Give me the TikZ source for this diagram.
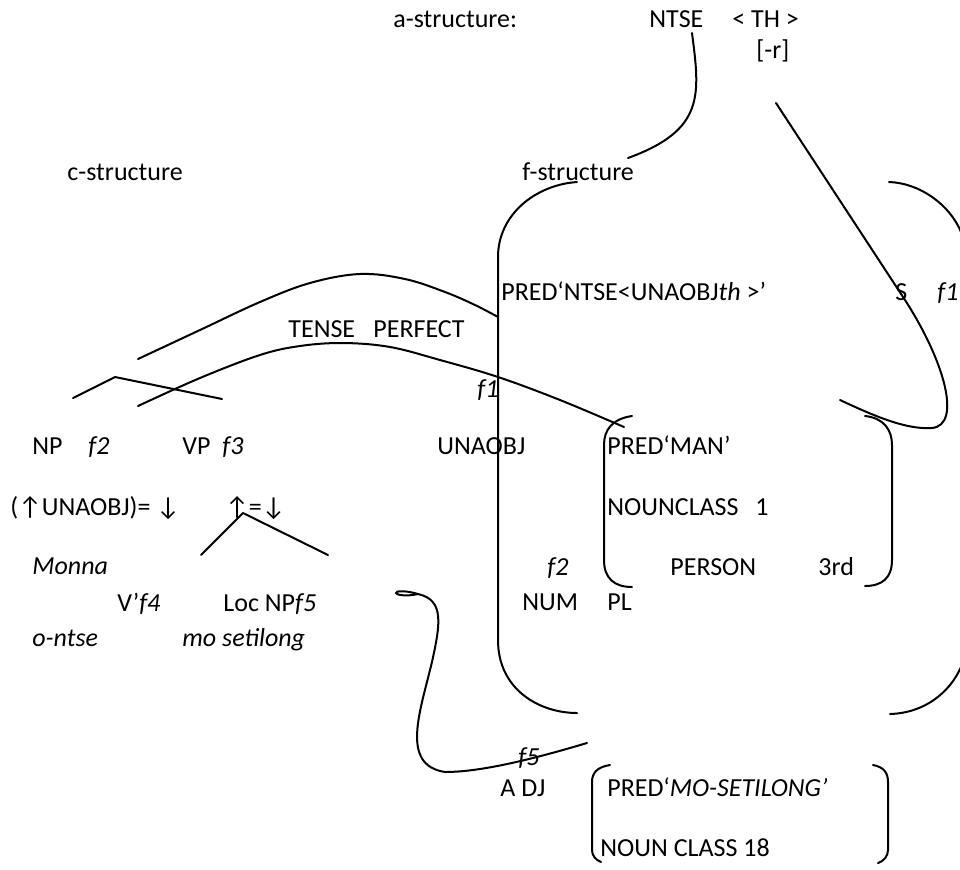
\documentclass[tikz,border=0pt]{standalone}
\usepackage{fontspec}
\setmainfont{Carlito}
\begin{document}
\begin{tikzpicture}[x=0.5pt,y=-0.5pt,
  every node/.style={inner sep=0pt, anchor=base west, font=\fontsize{13}{15}\selectfont},
  ln/.style={line width=1pt, line cap=round, line join=round}]
\useasboundingbox (0,0) rectangle (960,869);
% ---------- texts ----------
\node (astr) at (393,27) {a-structure:};
\node (ntse) at (649,27) {NTSE};
\node (th) at (732,27) {< TH >};
\node (rr) at (756,58) {[-r]};
\node (cstr) at (67,180) {c-structure};
\node (fstr) at (522,180) {f-structure};
\node (pred1) at (501,300) {PRED‘NTSE<UNAOBJ\textit{th} >’};
\node (S) at (895,300) {S};
\node (Sf1) at (937,300) {\textit{f1}};
\node (tense) at (288,337) {TENSE};
\node (perf) at (373,337) {PERFECT};
\node (f1) at (477,397) {\textit{f1}};
\node (np) at (32,454) {NP};
\node (npf) at (88,454) {\textit{f2}};
\node (vp) at (182,454) {VP};
\node (vpf) at (222,454) {\textit{f3}};
\node (unaobj) at (437,454) {UNAOBJ};
\node (predman) at (607,454) {PRED‘MAN’};
\node (eq1) at (10,515) {(↑UNAOBJ)= ↓};
\node (eq2) at (225,515) {↑=↓};
\node (nc) at (607,515) {NOUNCLASS};
\node (nc1) at (755,515) {1};
\node (monna) at (32,574) {\textit{Monna}};
\node (f2b) at (547,575) {\textit{f2}};
\node (person) at (670,575) {PERSON};
\node (third) at (818,575) {3rd};
\node (vbar) at (117,611) {V’\textit{f4}};
\node (locnp) at (223,611) {Loc NP\textit{f5}};
\node (num) at (522,610) {NUM};
\node (pl) at (607,610) {PL};
\node (ontse) at (32,646) {\textit{o-ntse}};
\node (mosetilong) at (182,646) {\textit{mo setilong}};
\node (f5) at (518,765) {\textit{f5}};
\node (adj) at (500,796) {A DJ};
\node (predmo) at (607,796) {PRED‘\textit{MO-SETILONG’}};
\node (nc18) at (600,856) {NOUN CLASS 18};
% ---------- a-structure to f-structure ----------
\coordinate (ntseB) at (692,33);
\coordinate (fstrR) at (628,158);
\draw[ln] (ntseB) .. controls (700,95) and (705,130) .. (fstrR);
% TH line to S f1
\coordinate (thB) at (776,103);
\coordinate (sEnd) at (840,400);
\draw[ln] (thB) -- (905,300) .. controls (945,362) and (962,425) .. (932,428)
  .. controls (905,430) and (870,414) .. (sEnd);
% ---------- big f-structure brackets ----------
\draw[ln] (577,182) .. controls (535,185) and (498,215) .. (498,257)
  -- (498,640) .. controls (498,690) and (540,713) .. (577,713);
\draw[ln] (889,182) .. controls (920,183) and (950,205) .. (961,232);
\draw[ln] (961,667) .. controls (950,692) and (925,713) .. (890,714);
% ---------- PRED MAN brackets ----------
\draw[ln] (632,416) .. controls (612,419) and (604,430) .. (604,445)
  -- (604,560) .. controls (604,578) and (614,587) .. (632,587);
\draw[ln] (865,416) .. controls (884,418) and (892,430) .. (892,445)
  -- (892,560) .. controls (892,578) and (882,586) .. (865,586);
% ---------- MO-SETILONG brackets ----------
\draw[ln] (610,765) .. controls (597,767) and (592,773) .. (592,782)
  -- (592,850) .. controls (592,856) and (596,860) .. (601,862);
\draw[ln] (873,765) .. controls (884,767) and (888,773) .. (888,782)
  -- (888,850) .. controls (888,856) and (884,861) .. (878,863);
% ---------- S arcs to f-structure ----------
\draw[ln] plot[smooth, tension=0.6] coordinates {(138,359) (200,330) (260,302) (310,283) (360,274) (405,279) (445,292) (475,305) (498,317)};
\draw[ln] plot[smooth, tension=0.6] coordinates {(138,406) (200,378) (260,355) (300,346) (343,343) (390,347) (440,360) (498,377) (560,400) (624,427)};
% ---------- tree lines ----------
\coordinate (sL) at (73,398);
\coordinate (sTop) at (115,377);
\coordinate (sR) at (222,399);
\draw[ln] (sL) -- (sTop) -- (sR);
\coordinate (vpTop) at (243,513);
\draw[ln] (201,555) -- (vpTop) -- (328,555);
% ---------- Loc NP to f5 ----------
\draw[ln] (418,594) .. controls (405,590) and (395,591) .. (396,593)
  .. controls (398,596) and (410,596) .. (418,594)
  .. controls (445,600) and (440,625) .. (432,662)
  .. controls (420,712) and (400,765) .. (445,772)
  .. controls (480,772) and (530,760) .. (587,743);
\end{tikzpicture}
\end{document}
